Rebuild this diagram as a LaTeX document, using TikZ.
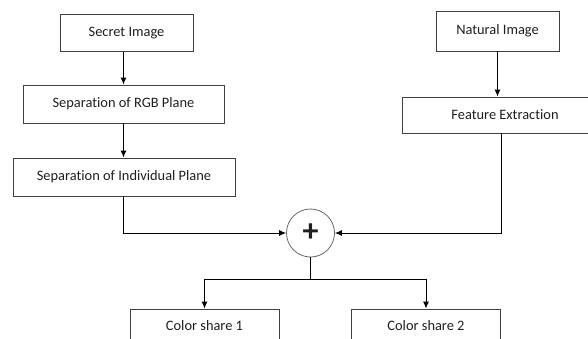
\documentclass[tikz,border=0pt]{standalone}
\usepackage{fontspec}
\setmainfont{Carlito}[Ligatures=NoCommon]
\usepackage{tikz}
\usetikzlibrary{arrows.meta,calc,positioning}

\definecolor{boxline}{HTML}{404040}
\definecolor{txt}{HTML}{1E1E1E}

\begin{document}
\begin{tikzpicture}[x=1pt,y=1pt,
    every node/.style={font=\fontsize{14.4}{16}\selectfont,text=txt},
    blk/.style={draw=boxline,line width=0.9pt,minimum height=37pt,inner sep=0pt},
    arr/.style={-{Latex[length=7pt,width=6pt]},line width=0.9pt},
    ln/.style={line width=0.9pt}]
\useasboundingbox (0,0) rectangle (588,-338);
% left branch
\node[blk,minimum width=133pt] (secret) at (126.5,-33) {Secret Image};
\node[blk,minimum width=201pt,minimum height=38pt] (rgb) at (123.5,-104) {Separation of RGB Plane};
\node[blk,minimum width=222pt,minimum height=38pt] (indiv) at (124,-177) {Separation of Individual Plane};
% right branch
\node[blk,minimum width=123pt,minimum height=40pt] (natural) at (497.5,-31) {Natural Image};
\node[blk,minimum width=206pt,minimum height=36pt] (feature) at (505,-115) {Feature Extraction};
% adder
\node[circle,draw=boxline!80,line width=0.8pt,minimum size=48pt,inner sep=0pt] (plus) at (310.5,-233)
     {\fontsize{32}{32}\selectfont\bfseries +};
% shares
\node[blk,minimum width=149pt,minimum height=34pt] (share1) at (204.5,-326) {Color share 1};
\node[blk,minimum width=149pt,minimum height=34pt] (share2) at (426,-326) {Color share 2};
\coordinate (split) at ($(plus.south)+(0,-22)$);

\draw[arr] (secret.south -| rgb.north) -- (rgb.north);
\draw[arr] (rgb.south) -- (indiv.north -| rgb.south);
\draw[arr] (natural.south) -- (natural.south |- feature.north);
\draw[arr] (indiv.south -| 123,0) |- (plus.west);
\draw[arr] (feature.south -| 501,0) |- (plus.east);
\draw[ln] (plus.south) -- (split);
\draw[arr] (split) -| (share1.north);
\draw[arr] (split) -| (share2.north);
\end{tikzpicture}
\end{document}
